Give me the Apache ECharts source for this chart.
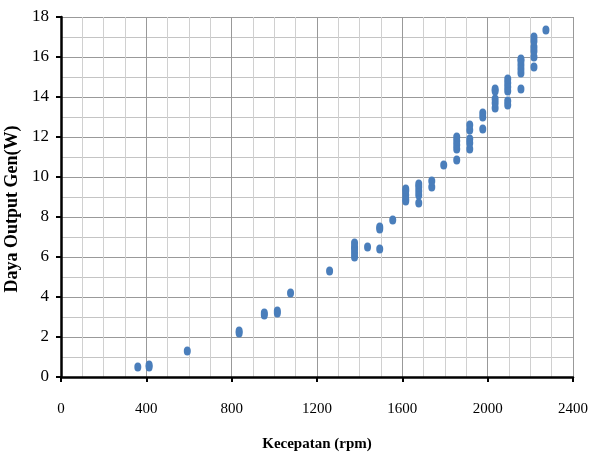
<!DOCTYPE html>
<html>
<head>
<meta charset="utf-8">
<script src="https://cdn.jsdelivr.net/npm/echarts@6/dist/echarts.min.js"></script>
<style>
  html, body { margin: 0; padding: 0; background: #fff; }
  #chart { width: 590px; height: 457px; }
</style>
</head>
<body>
<div id="chart"></div>
<script>
// kecepatan (rpm) dan daya output generator (W)
const speedRpm = [
  360, 413, 413, 592, 835, 835, 953, 953, 1014, 1014, 1076, 1259,
  1376, 1376, 1376, 1376, 1376, 1437, 1494, 1494, 1494, 1555,
  1616, 1616, 1616, 1616, 1616, 1677, 1677, 1677, 1677, 1677,
  1738, 1738, 1794,
  1855, 1855, 1855, 1855, 1855, 1916, 1916, 1916, 1916, 1916,
  1977, 1977, 1977,
  2035, 2035, 2035, 2035, 2035, 2094, 2094, 2094, 2094, 2094, 2094,
  2156, 2156, 2156, 2156, 2156, 2156, 2217, 2217, 2217, 2217, 2217, 2217,
  2273
]
const powerW = [
  0.5, 0.5, 0.6, 1.3, 2.2, 2.3, 3.1, 3.2, 3.2, 3.3, 4.2, 5.3,
  6.0, 6.2, 6.4, 6.5, 6.7, 6.5, 6.4, 7.4, 7.5, 7.85,
  8.8, 8.9, 9.1, 9.3, 9.4, 8.7, 9.1, 9.3, 9.5, 9.65,
  9.5, 9.8, 10.6,
  10.85, 11.4, 11.6, 11.8, 12.0, 11.4, 11.7, 11.9, 12.35, 12.6,
  12.4, 13.0, 13.2,
  13.45, 13.7, 13.9, 14.3, 14.4, 13.6, 13.8, 14.3, 14.5, 14.7, 14.9,
  14.4, 15.2, 15.4, 15.6, 15.8, 15.9, 15.5, 16.0, 16.3, 16.5, 16.8, 17.0,
  17.35
]

const chart = echarts.init(document.getElementById('chart'))
const serif = '"Liberation Serif", "DejaVu Serif", serif'

chart.setOption({
  animation: false,
  grid: { left: 61, right: 17, top: 17, bottom: 80, outerBoundsMode: 'none', containLabel: false },
  xAxis: {
    type: 'value',
    min: 0, max: 2400, interval: 400,
    name: 'Kecepatan (rpm)',
    nameLocation: 'middle',
    nameGap: 60,
    nameTextStyle: { fontFamily: serif, fontWeight: 'bold', fontSize: 15, color: '#000' },
    axisLine: { show: true, onZero: false, lineStyle: { color: '#000', width: 2.5 } },
    axisTick: { show: true, length: 5, lineStyle: { color: '#000', width: 2 } },
    axisLabel: { margin: 25, fontFamily: serif, fontSize: 15, color: '#000', formatter: v => String(v) },
    splitLine: { show: true, lineStyle: { color: '#999', width: 1 } },
    minorTick: { show: false, splitNumber: 4 },
    minorSplitLine: { show: true, lineStyle: { color: '#d0d0d0', width: 1 } }
  },
  yAxis: {
    type: 'value',
    min: 0, max: 18, interval: 2,
    name: 'Daya Output Gen(W)',
    nameLocation: 'middle',
    nameGap: 34,
    nameTextStyle: { fontFamily: serif, fontWeight: 'bold', fontSize: 18, color: '#000', padding: [0, 24, 0, 0] },
    axisLine: { show: true, lineStyle: { color: '#000', width: 2.5 } },
    axisTick: { show: true, length: 5, lineStyle: { color: '#000', width: 2 } },
    axisLabel: { margin: 12, fontFamily: serif, fontSize: 17, color: '#000' },
    splitLine: { show: true, lineStyle: { color: '#999', width: 1 } },
    minorTick: { show: false, splitNumber: 2 },
    minorSplitLine: { show: true, lineStyle: { color: '#c4c4c4', width: 1 } }
  },
  series: [{
    type: 'scatter',
    data: speedRpm.map((x, i) => [x, powerW[i]]),
    symbol: 'circle',
    symbolSize: [7, 9],
    itemStyle: { color: '#4a7ebb', opacity: 1 }
  }]
})
</script>
</body>
</html>
